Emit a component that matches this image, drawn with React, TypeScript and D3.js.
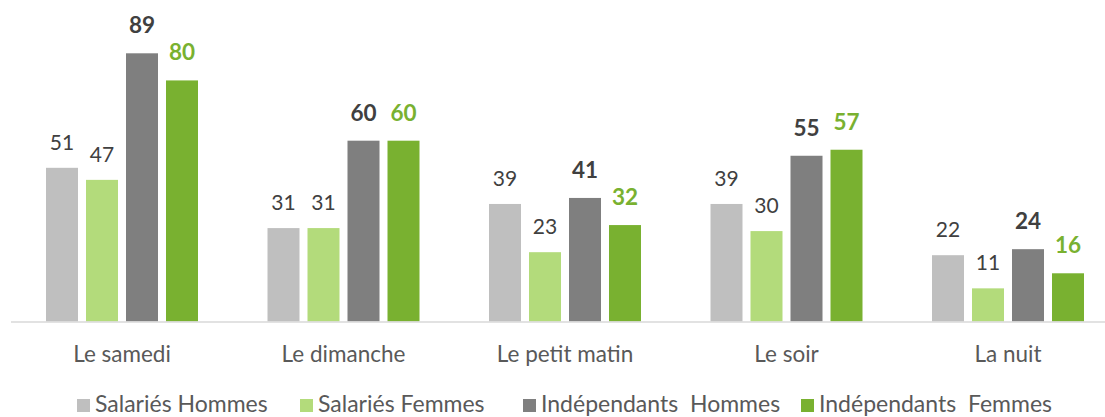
import React from "react";
import * as d3 from "d3";

const categories = ["Le samedi", "Le dimanche", "Le petit matin", "Le soir", "La nuit"];
const seriesNames = ["Salariés Hommes", "Salariés Femmes", "Indépendants  Hommes", "Indépendants  Femmes"];
const salariesHommes = [51, 31, 39, 39, 22];
const salariesFemmes = [47, 31, 23, 30, 11];
const independantsHommes = [89, 60, 41, 55, 24];
const independantsFemmes = [80, 60, 32, 57, 16];

const seriesValues = [salariesHommes, salariesFemmes, independantsHommes, independantsFemmes];
const colors = ["#bfbfbf", "#b3db7b", "#7f7f7f", "#79b130"];
const labelColors = ["#404040", "#404040", "#404040", "#79b130"];
const labelBold = [false, false, true, true];

const W = 1105;
const H = 417;
const FONT = "Lato, 'Open Sans', sans-serif";

export default function App() {
  const baseline = 321.5;
  const x = d3.scaleBand<string>().domain(categories).range([11.25, 1118.75]).padding(0);
  const y = d3.scaleLinear().domain([0, 89]).range([baseline, 53.3]);
  const inner = d3
    .scaleBand<string>()
    .domain(seriesNames)
    .range([-76, 76])
    .paddingInner(0.2);

  const legendX = [77, 300, 523, 801];

  return (
    <svg width={W} height={H} style={{ position: "absolute", left: 0, top: 0 }}>
      <rect width={W} height={H} fill="#ffffff" />
      {categories.map((c, ci) => {
        const cx = (x(c) as number) + x.bandwidth() / 2;
        return (
          <g key={c}>
            {seriesNames.map((s, si) => {
              const v = seriesValues[si][ci];
              const bx = cx + (inner(s) as number);
              const top = y(v);
              return (
                <g key={s}>
                  <rect
                    x={bx}
                    y={top}
                    width={inner.bandwidth()}
                    height={baseline - top}
                    fill={colors[si]}
                  />
                  <text
                    x={bx + inner.bandwidth() / 2}
                    y={top - (labelBold[si] ? 20 : 18)}
                    textAnchor="middle"
                    fontFamily={FONT}
                    fontSize={labelBold[si] ? 22.5 : 21}
                    fontWeight={labelBold[si] ? 700 : 400}
                    fill={labelColors[si]}
                  >
                    {v}
                  </text>
                </g>
              );
            })}
            <text
              x={cx}
              y={361.5}
              textAnchor="middle"
              fontFamily={FONT}
              fontSize={22.5}
              fill="#595959"
            >
              {c}
            </text>
          </g>
        );
      })}
      <line x1={11} x2={1105} y1={baseline + 0.5} y2={baseline + 0.5} stroke="#d9d9d9" strokeWidth={1.5} />
      {seriesNames.map((s, si) => (
        <g key={s}>
          <rect x={legendX[si]} y={399} width={13} height={13} fill={colors[si]} />
          <text
            x={legendX[si] + 18}
            y={411.5}
            fontFamily={FONT}
            fontSize={23}
            fill="#595959"
            style={{ whiteSpace: "pre" }}
          >
            {s}
          </text>
        </g>
      ))}
    </svg>
  );
}
